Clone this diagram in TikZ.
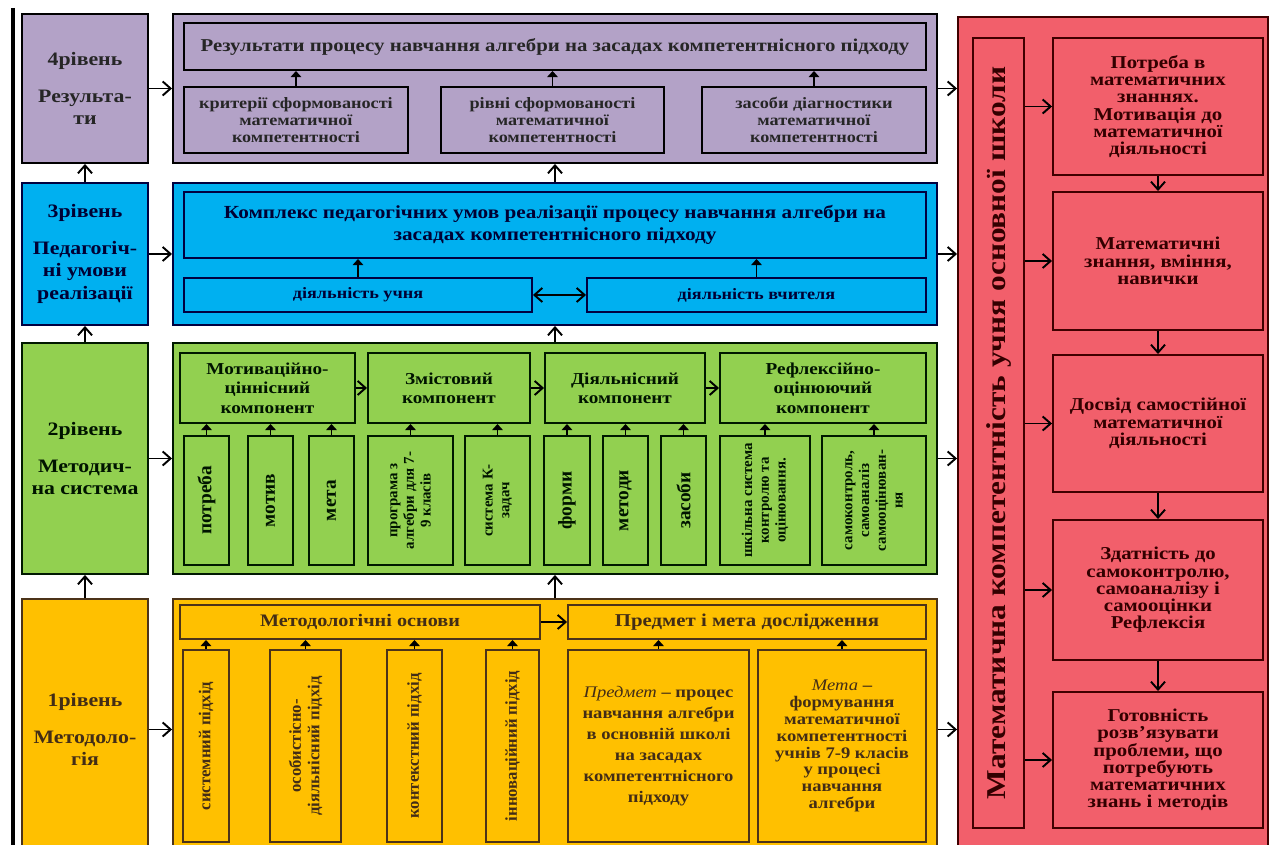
\documentclass[tikz,border=0pt]{standalone}
\usepackage{fontspec}
\setmainfont{Liberation Serif}[FakeStretch=1.15]
\newfontfamily\vfont{Liberation Serif}
\usepackage{tikz}
\usetikzlibrary{arrows.meta}
\definecolor{lila}{HTML}{B3A2C7}
\definecolor{blau}{HTML}{00B0F0}
\definecolor{gruen}{HTML}{92D050}
\definecolor{gelb}{HTML}{FFC000}
\definecolor{rot}{HTML}{F25F6B}

\begin{document}
\begin{tikzpicture}[>={Straight Barb[length=4.5pt,width=8pt]}, line width=1.1pt,
  box/.style={draw, rectangle, align=center, inner sep=1pt, font=\bfseries},
  lvl/.style={box, font=\bfseries\fontsize{10.8}{12.8}\selectfont},
  zlila/.style={fill=lila, draw=black, text=black!85},
  zblau/.style={fill=blau, draw=blue!25!black, text=blue!20!black},
  zgruen/.style={fill=gruen, draw=green!10!black, text=green!8!black},
  zgelb/.style={fill=gelb, draw=brown!40!black, text=brown!35!black},
  zrot/.style={fill=rot, draw=red!25!black, text=red!20!black},
  vert/.style={box, rotate=90, font=\vfont\bfseries\fontsize{9.5}{10.5}\selectfont},
  vbig/.style={font=\vfont\bfseries\fontsize{11}{12}\selectfont},
  vsmall/.style={font=\vfont\bfseries\fontsize{8.5}{9.5}\selectfont},
  uparr/.style={-{Triangle[length=3.5pt,width=6pt]}}
]
\useasboundingbox (0,0) rectangle (25.42,-16.90);
\clip (0,0) rectangle (25.42,-16.90);

\draw[line width=1.8pt] (0.26,-0.16) -- (0.26,-16.9);

\node[lvl, zlila, minimum width=2.52cm, minimum height=2.98cm] (l4) at (1.70,-1.77) {4рівень\\[8pt]Результа-\\ти};
\node[lvl, zblau, minimum width=2.52cm, minimum height=2.84cm] (l3) at (1.70,-5.08) {3рівень\\[8pt]Педагогіч-\\ні умови\\реалізації};
\node[lvl, zgruen, minimum width=2.52cm, minimum height=4.62cm] (l2) at (1.70,-9.17) {2рівень\\[8pt]Методич-\\на система};
\node[lvl, zgelb, minimum width=2.52cm, minimum height=5.22cm] (l1) at (1.70,-14.59) {1рівень\\[8pt]Методоло-\\гія};

\node[box, zlila, minimum width=15.28cm, minimum height=2.98cm] (c4) at (11.10,-1.77) {};
\node[box, zblau, minimum width=15.28cm, minimum height=2.84cm] (c3) at (11.10,-5.08) {};
\node[box, zgruen, minimum width=15.28cm, minimum height=4.62cm] (c2) at (11.10,-9.17) {};
\node[box, zgelb, minimum width=15.28cm, minimum height=5.22cm] (c1) at (11.10,-14.59) {};

\node[box, zlila, font=\bfseries\fontsize{10.3}{12}\selectfont, minimum width=14.84cm, minimum height=0.94cm] (t4) at (11.10,-0.93) {Результати процесу навчання алгебри на засадах компетентнісного підходу};
\node[box, zlila, font=\bfseries\fontsize{9}{9.8}\selectfont, minimum width=4.48cm, minimum height=1.32cm] (k1) at (5.92,-2.40) {критерії сформованості\\математичної\\компетентності};
\node[box, zlila, font=\bfseries\fontsize{9}{9.8}\selectfont, minimum width=4.46cm, minimum height=1.32cm] (k2) at (11.05,-2.40) {рівні сформованості\\математичної\\компетентності};
\node[box, zlila, font=\bfseries\fontsize{9}{9.8}\selectfont, minimum width=4.48cm, minimum height=1.32cm] (k3) at (16.28,-2.40) {засоби діагностики\\математичної\\компетентності};

\node[box, zblau, font=\bfseries\fontsize{10.5}{12.5}\selectfont, minimum width=14.84cm, minimum height=1.32cm] (t3) at (11.10,-4.50) {Комплекс педагогічних умов реалізації процесу навчання алгебри на\\засадах компетентнісного підходу};
\node[box, zblau, font=\bfseries\fontsize{9}{10}\selectfont, minimum width=6.96cm, minimum height=0.68cm] (pupil) at (7.16,-5.90) {діяльність учня};
\node[box, zblau, font=\bfseries\fontsize{9}{10}\selectfont, minimum width=6.78cm, minimum height=0.68cm] (teacher) at (15.13,-5.90) {діяльність вчителя};

\node[box, zgruen, font=\bfseries\fontsize{9.5}{11}\selectfont, minimum width=3.50cm, minimum height=1.40cm] (m1) at (5.35,-7.76) {Мотиваційно-\\ціннісний\\компонент};
\node[box, zgruen, font=\bfseries\fontsize{9.5}{11}\selectfont, minimum width=3.24cm, minimum height=1.40cm] (m2) at (8.98,-7.76) {Змістовий\\компонент};
\node[box, zgruen, font=\bfseries\fontsize{9.5}{11}\selectfont, minimum width=3.20cm, minimum height=1.40cm] (m3) at (12.50,-7.76) {Діяльнісний\\компонент};
\node[box, zgruen, font=\bfseries\fontsize{9.5}{11}\selectfont, minimum width=4.12cm, minimum height=1.40cm] (m4) at (16.46,-7.76) {Рефлексійно-\\оцінюючий\\компонент};

\node[vert, vbig, zgruen, minimum width=2.58cm, minimum height=0.90cm] (s1) at (4.13,-10.01) {потреба};
\node[vert, vbig, zgruen, minimum width=2.58cm, minimum height=0.90cm] (s2) at (5.41,-10.01) {мотив};
\node[vert, vbig, zgruen, minimum width=2.58cm, minimum height=0.90cm] (s3) at (6.63,-10.01) {мета};
\node[vert, vsmall, zgruen, minimum width=2.58cm, minimum height=1.70cm] (s4) at (8.21,-10.01) {програма з\\алгебри для 7-\\9 класів};
\node[vert, vsmall, zgruen, minimum width=2.58cm, minimum height=1.30cm] (s5) at (9.95,-10.01) {система К-\\задач};
\node[vert, vbig, zgruen, minimum width=2.58cm, minimum height=0.92cm] (s6) at (11.34,-10.01) {форми};
\node[vert, vbig, zgruen, minimum width=2.58cm, minimum height=0.90cm] (s7) at (12.51,-10.01) {методи};
\node[vert, vbig, zgruen, minimum width=2.58cm, minimum height=0.90cm] (s8) at (13.67,-10.01) {засоби};
\node[vert, vsmall, zgruen, minimum width=2.58cm, minimum height=1.80cm] (s9) at (15.30,-10.01) {шкільна система\\контролю та\\оцінювання.};
\node[vert, vsmall, zgruen, minimum width=2.58cm, minimum height=2.08cm] (s10) at (17.48,-10.01) {самоконтроль,\\самоаналіз\\самооцінюван-\\ня};

\node[box, zgelb, font=\bfseries\fontsize{10}{11}\selectfont, minimum width=7.20cm, minimum height=0.68cm] (mb) at (7.20,-12.44) {Методологічні основи};
\node[box, zgelb, font=\bfseries\fontsize{10.3}{11}\selectfont, minimum width=7.16cm, minimum height=0.68cm] (pm) at (14.94,-12.44) {Предмет і мета дослідження};
\node[vert, zgelb, minimum width=3.84cm, minimum height=0.92cm] (o1) at (4.12,-14.92) {системний підхід};
\node[vert, zgelb, minimum width=3.84cm, minimum height=1.42cm] (o2) at (6.11,-14.92) {особистісно-\\діяльнісний підхід};
\node[vert, zgelb, minimum width=3.84cm, minimum height=1.10cm] (o3) at (8.29,-14.92) {контекстний підхід};
\node[vert, zgelb, minimum width=3.84cm, minimum height=1.06cm] (o4) at (10.25,-14.92) {інноваційний підхід};
\node[box, zgelb, font=\bfseries\fontsize{9.2}{12}\selectfont, minimum width=3.62cm, minimum height=3.84cm] (o5) at (13.17,-14.92) {{\mdseries\itshape Предмет} – процес\\навчання алгебри\\в основній школі\\на засадах\\компетентнісного\\підходу};
\node[box, zgelb, font=\bfseries\fontsize{9.2}{9.6}\selectfont, minimum width=3.36cm, minimum height=3.84cm] (o6) at (16.84,-14.92) {{\mdseries\itshape Мета} –\\формування\\математичної\\компетентності\\учнів 7-9 класів\\у процесі\\навчання\\алгебри};

\node[box, zrot, minimum width=6.20cm, minimum height=17.26cm] (red) at (22.26,-8.97) {};
\node[box, zrot, rotate=90, font=\bfseries\fontsize{15.5}{17}\selectfont, minimum width=15.80cm, minimum height=1.02cm] (mk) at (19.97,-8.66) {Математична компетентність учня основної школи};
\node[box, zrot, font=\bfseries\fontsize{10.3}{9.8}\selectfont, minimum width=4.20cm, minimum height=2.74cm] (r1) at (23.16,-2.13) {Потреба в\\математичних\\знаннях.\\Мотивація до\\математичної\\діяльності};
\node[box, zrot, font=\bfseries\fontsize{10.3}{9.8}\selectfont, minimum width=4.20cm, minimum height=2.76cm] (r2) at (23.16,-5.22) {Математичні\\знання, вміння,\\навички};
\node[box, zrot, font=\bfseries\fontsize{10.3}{9.8}\selectfont, minimum width=4.20cm, minimum height=2.74cm] (r3) at (23.16,-8.47) {Досвід самостійної\\математичної\\діяльності};
\node[box, zrot, font=\bfseries\fontsize{10.3}{9.8}\selectfont, minimum width=4.20cm, minimum height=2.80cm] (r4) at (23.16,-11.80) {Здатність до\\самоконтролю,\\самоаналізу і\\самооцінки\\Рефлексія};
\node[box, zrot, font=\bfseries\fontsize{10.3}{9.8}\selectfont, minimum width=4.20cm, minimum height=2.72cm] (r5) at (23.16,-15.20) {Готовність\\розв’язувати\\проблеми, що\\потребують\\математичних\\знань і методів};

\path[draw] [->] (l1) -- (l2);
\path[draw] [->] (l2) -- (l3);
\path[draw] [->] (l3) -- (l4);
\path[draw] [->] (c1) -- (c2);
\path[draw] [->] (c2) -- (c3);
\path[draw] [->] (c3) -- (c4);
\path[draw] [->] (l1) -- (c1);
\path[draw] [->] (l2) -- (c2);
\path[draw] [->] (l3) -- (c3);
\path[draw] [->] (l4) -- (c4);
\path[draw] [->] (c4.east) -- (c4.east -| red.west);
\path[draw] [->] (c3.east) -- (c3.east -| red.west);
\path[draw] [->] (c2.east) -- (c2.east -| red.west);
\path[draw] [->] (c1.east) -- (c1.east -| red.west);

\path[draw] [uparr] (k1) -- (k1 |- t4.south);
\path[draw] [uparr] (k2) -- (k2 |- t4.south);
\path[draw] [uparr] (k3) -- (k3 |- t4.south);
\path[draw] [uparr] (pupil) -- (pupil |- t3.south);
\path[draw] [uparr] (teacher) -- (teacher |- t3.south);
\path[draw] [<->] (pupil) -- (teacher);

\path[draw] [->] (m1) -- (m2);
\path[draw] [->] (m2) -- (m3);
\path[draw] [->] (m3) -- (m4);
\path[draw] [uparr] (s1) -- (s1 |- m1.south);
\path[draw] [uparr] (s2) -- (s2 |- m1.south);
\path[draw] [uparr] (s3) -- (s3 |- m1.south);
\path[draw] [uparr] (s4) -- (s4 |- m2.south);
\path[draw] [uparr] (s5) -- (s5 |- m2.south);
\path[draw] [uparr] (s6) -- (s6 |- m3.south);
\path[draw] [uparr] (s7) -- (s7 |- m3.south);
\path[draw] [uparr] (s8) -- (s8 |- m3.south);
\path[draw] [uparr] (s9) -- (s9 |- m4.south);
\path[draw] [uparr] (s10) -- (s10 |- m4.south);

\path[draw] [->] (mb) -- (pm);
\path[draw] [uparr] (o1) -- (o1 |- mb.south);
\path[draw] [uparr] (o2) -- (o2 |- mb.south);
\path[draw] [uparr] (o3) -- (o3 |- mb.south);
\path[draw] [uparr] (o4) -- (o4 |- mb.south);
\path[draw] [uparr] (o5) -- (o5 |- pm.south);
\path[draw] [uparr] (o6) -- (o6 |- pm.south);

\path[draw] [->] (mk.south |- r1.west) -- (r1.west);
\path[draw] [->] (mk.south |- r2.west) -- (r2.west);
\path[draw] [->] (mk.south |- r3.west) -- (r3.west);
\path[draw] [->] (mk.south |- r4.west) -- (r4.west);
\path[draw] [->] (mk.south |- r5.west) -- (r5.west);
\path[draw] [->] (r1) -- (r2);
\path[draw] [->] (r2) -- (r3);
\path[draw] [->] (r3) -- (r4);
\path[draw] [->] (r4) -- (r5);

\end{tikzpicture}
\end{document}
